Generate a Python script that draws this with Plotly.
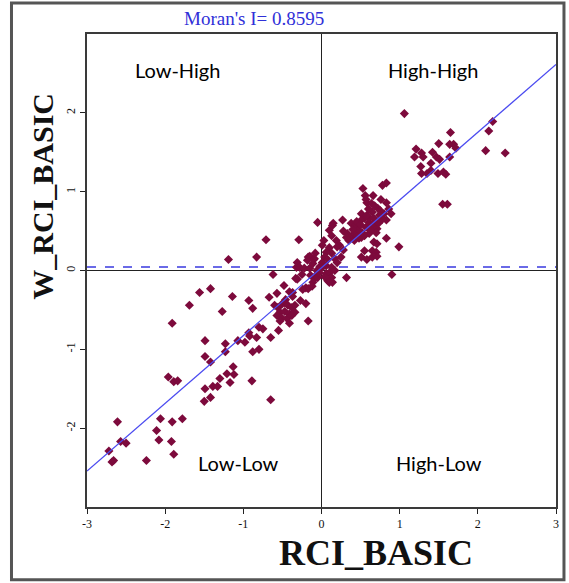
import plotly.graph_objects as go

# ---------------- data ----------------
rci_basic = [
    -1.49, -1.23, -1.23, -1.49, -1.42, -1.13, -1.21, -1.12, -1.96, -1.30,
    -1.89, -1.84, -1.17, -1.39, -1.33, -1.49, -1.42, -1.50, -2.61, -2.06,
    -1.91, -1.78, -2.11, -2.57, -2.50, -2.08, -1.92, -1.89, -2.72, -2.68,
    -2.66, -2.24, -0.89, -0.65,
    -0.71, -0.29, -1.19, -0.83, -0.62, -0.31, -1.56, -1.42, -1.69, -1.14,
    -1.27, -0.93, -0.88, -0.67, -0.57, -0.46, -0.37, -0.41, -0.48, -0.60,
    -0.56, -0.51, -0.47, -0.43, -0.38, -0.34, -0.53, -0.47, -0.41, -0.34,
    -0.57, -0.51, -0.44, -0.38, -0.53, -0.27, -0.20, -0.41, -0.17, -1.91,
    -1.07, -0.93, -0.92, -0.83, -0.80, -0.65, -0.75, -0.55, -0.98, -0.88,
    -0.80,
    -0.17, -0.09, -0.32, -0.28, -0.22, -0.15, -0.33, -0.31, -0.14, -0.09,
    -0.05, -0.20, -0.17, -0.24, -0.05, 0.15, 0.27, 0.38, 0.10, 0.13,
    0.03, 0.01, 0.19, 0.23, 0.33, 0.38, 0.42, 0.48, 0.52, 0.61,
    0.64, 0.67, 0.71, 0.65, 0.70, 0.83, 0.99, 0.10, 0.13, 0.17,
    0.06, 0.04, 0.51, 0.58, 0.65, 0.71, 0.25, 0.20, -0.15, -0.10,
    -0.18, 0.01, 0.06, 0.00, 0.13, 0.17, 0.10, -0.06, -0.05, 0.06,
    0.13, 0.14, 0.32, 0.90, -0.11, 0.08, -0.37,
    -0.02, 0.04, -0.08, 0.08, -0.25, -0.12, 0.20, 0.28,
    0.53, 0.56, 0.78, 0.83, 0.58, 0.64, 0.83, 0.72, 0.65, 0.61,
    0.51, 0.55, 0.74, 0.80, 0.83, 0.70, 0.65, 0.57, 0.71, 0.51,
    0.86, 0.89, 0.42, 0.46, 0.55, 0.32, 0.58, 0.67, 0.61, 0.44,
    0.48, 0.14, 0.51, 0.55, -0.11, -0.03, 0.10,
    0.45, 0.50, 0.60, 0.68, 0.75, 0.78, 0.62, 0.70, 0.57, 0.76,
    0.66, 0.40, 0.35, 0.28, 0.73,
    1.06, 1.65, 2.19, 2.14, 1.50, 1.64, 1.69, 1.72, 1.21, 1.28,
    1.30, 1.42, 1.19, 1.47, 1.51, 1.64, 2.10, 2.35, 1.27, 1.40,
    1.28, 1.35, 1.40, 1.49, 1.56, 1.59, 1.55, 1.61,
]
w_rci_basic = [
    -0.89, -0.93, -1.03, -1.09, -1.16, -1.22, -1.31, -1.32, -1.35, -1.37,
    -1.41, -1.40, -1.42, -1.47, -1.47, -1.50, -1.61, -1.66, -1.92, -1.88,
    -1.92, -1.88, -2.03, -2.17, -2.19, -2.15, -2.17, -2.33, -2.29, -2.43,
    -2.41, -2.41, -1.40, -1.64,
    0.39, 0.39, 0.14, 0.17, -0.05, 0.10, -0.28, -0.23, -0.44, -0.33,
    -0.52, -0.38, -0.48, -0.34, -0.29, -0.37, -0.33, -0.27, -0.19, -0.44,
    -0.47, -0.43, -0.41, -0.44, -0.47, -0.44, -0.53, -0.52, -0.55, -0.53,
    -0.57, -0.60, -0.61, -0.57, -0.64, -0.38, -0.42, -0.67, -0.64, -0.67,
    -0.89, -0.79, -0.83, -0.85, -0.72, -0.85, -0.74, -0.76, -0.91, -1.03,
    -1.00,
    0.17, 0.15, 0.04, 0.04, 0.03, 0.03, -0.10, -0.11, -0.06, -0.10,
    -0.04, -0.22, -0.23, -0.24, 0.61, 0.60, 0.64, 0.60, 0.51, 0.44,
    0.38, 0.32, 0.38, 0.32, 0.47, 0.42, 0.38, 0.41, 0.48, 0.47,
    0.51, 0.36, 0.34, 0.25, 0.23, 0.41, 0.30, 0.29, 0.22, 0.15,
    0.23, 0.17, 0.17, 0.14, 0.17, 0.18, 0.17, 0.10, 0.18, 0.14,
    0.13, 0.10, 0.06, 0.03, 0.04, 0.00, -0.03, 0.00, -0.09, -0.04,
    -0.09, -0.15, -0.09, -0.05, -0.15, -0.13, -0.28,
    0.05, -0.08, 0.22, 0.14, -0.05, -0.20, 0.30, 0.26,
    1.04, 0.95, 1.08, 1.11, 0.86, 0.85, 0.86, 0.79, 0.74, 0.67,
    0.72, 0.66, 0.70, 0.72, 0.64, 0.61, 0.57, 0.55, 0.53, 0.64,
    0.78, 0.72, 0.47, 0.44, 0.44, 0.42, 0.70, 0.66, 0.61, 0.57,
    0.51, 0.57, 0.42, 0.25, 0.09, -0.03, -0.15,
    0.62, 0.58, 0.78, 0.82, 0.76, 0.65, 0.52, 0.48, 0.90, 0.90,
    0.95, 0.52, 0.38, 0.50, 0.60,
    1.99, 1.75, 1.89, 1.77, 1.61, 1.60, 1.60, 1.55, 1.54, 1.49,
    1.44, 1.50, 1.44, 1.44, 1.41, 1.44, 1.52, 1.49, 1.32, 1.36,
    1.23, 1.23, 1.27, 1.23, 1.25, 1.22, 0.84, 0.84,
]

morans_i = 0.8595          # slope of the regression line
fit_intercept = 0.035
mean_w = 0.045             # dashed reference line
axis_range = [-3, 3]
x_tick_vals = [-3, -2, -1, 0, 1, 2, 3]
x_tick_labels = ["-3", "-2", "-1", "0", "1", "2", "3"]
y_tick_vals = [-2, -1, 0, 1, 2]
y_tick_labels = ["-2", "-1", "0", "1", "2"]
quadrant_names = ["Low-High", "High-High", "Low-Low", "High-Low"]

# ---------------- figure ----------------
fig = go.Figure()

fig.add_trace(go.Scatter(
    x=axis_range, y=[mean_w, mean_w], mode="lines",
    line=dict(color="#3a3ae0", width=1.5, dash="dash"),
    hoverinfo="skip", showlegend=False))

fig.add_trace(go.Scatter(
    x=rci_basic, y=w_rci_basic, mode="markers",
    marker=dict(symbol="diamond", size=7, color="#7d0a3c", line=dict(width=0)),
    showlegend=False))

fit_x = axis_range
fit_y = [morans_i * v + fit_intercept for v in fit_x]
fig.add_trace(go.Scatter(
    x=fit_x, y=fit_y, mode="lines",
    line=dict(color="#4b4bf0", width=1.3),
    hoverinfo="skip", showlegend=False))

axis_common = dict(
    range=axis_range, tickmode="array",
    showgrid=False, zeroline=True, zerolinecolor="#222222", zerolinewidth=1.3,
    showline=True, mirror=True, linecolor="#3a3a3a", linewidth=2,
    ticks="outside", ticklen=5, tickcolor="#222222", tickwidth=1,
    tickfont=dict(family="Liberation Serif", size=12, color="#111111"),
)

fig.update_layout(
    width=569, height=583,
    margin=dict(l=87, r=10, t=34, b=76),
    paper_bgcolor="white", plot_bgcolor="white",
    xaxis=dict(**axis_common, tickvals=x_tick_vals, ticktext=x_tick_labels),
    yaxis=dict(**axis_common, tickvals=y_tick_vals, ticktext=y_tick_labels,
               tickangle=-90),
)

# quadrant labels
quad_pos = [(-1.84, 2.54), (1.42, 2.54), (-1.06, -2.44), (1.50, -2.44)]
for name, (qx, qy) in zip(quadrant_names, quad_pos):
    fig.add_annotation(x=qx, y=qy, xref="x", yref="y", text=name, showarrow=False,
                       xanchor="center", yanchor="middle",
                       font=dict(family="Lato", size=20, color="#000000"))

# title and axis titles
fig.add_annotation(x=0.356, y=1.032, xref="paper", yref="paper",
                   xanchor="center", yanchor="middle",
                   text=f"Moran's I= {morans_i}", showarrow=False,
                   font=dict(family="Liberation Serif", size=19, color="#3030d8"))
fig.add_annotation(x=0.617, y=-0.097, xref="paper", yref="paper",
                   xanchor="center", yanchor="middle",
                   text="<b>RCI_BASIC</b>", showarrow=False,
                   font=dict(family="Liberation Serif", size=36, color="#111111"))
fig.add_annotation(x=-0.095, y=0.657, xref="paper", yref="paper",
                   xanchor="center", yanchor="middle",
                   text="<b>W_RCI_BASIC</b>", showarrow=False, textangle=-90,
                   font=dict(family="Liberation Serif", size=30, color="#111111"))

# outer frame
fig.add_shape(type="rect", xref="paper", yref="paper",
              x0=-0.161, x1=1.017, y0=-0.154, y1=1.0655,
              line=dict(color="#555555", width=3), layer="below")

fig.write_html("out.html")
